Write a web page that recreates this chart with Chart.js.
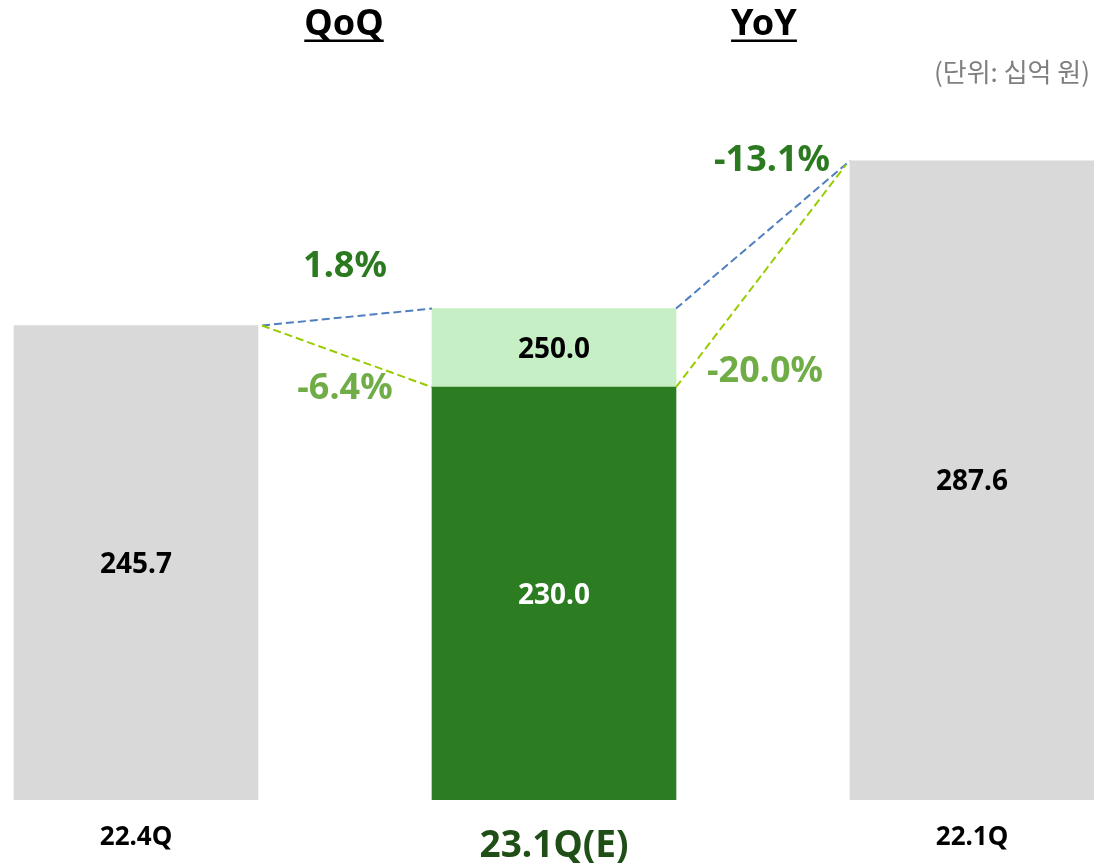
<!DOCTYPE html>
<html><head><meta charset="utf-8">
<script src="https://cdn.jsdelivr.net/npm/chart.js@4/dist/chart.umd.min.js"></script>
<style>html,body{margin:0;padding:0;background:#fff;} #wrap{position:relative;width:1094px;height:866px;}</style>
</head><body><div id="wrap"><canvas id="c"></canvas></div>
<script>
// ---- data ----
const categories = ['22.4Q', '23.1Q(E)', '22.1Q'];
const baseValues = [245.7, 230.0, 287.6];      // 22.4Q actual, 23.1Q(E) low estimate, 22.1Q actual
const upperEstimate = [null, 250.0, null];     // 23.1Q(E) high estimate
const qoqLabels = ['1.8%', '-6.4%'];           // vs high / low estimate
const yoyLabels = ['-13.1%', '-20.0%'];
const headerLabels = ['QoQ', 'YoY'];
const unitLabel = '(단위: 십억 원)';

// ---- styles ----
const FONT = "'Noto Sans', 'Noto Sans CJK KR', sans-serif";
const GRAY = '#d9d9d9', DARK = '#2c7c22', LIGHT = '#c6efc6';
const PCT_DARK = '#2b7a20', PCT_LIGHT = '#70ad47';
const BLUE = '#4f7fbf', YGREEN = '#99cc00';

const floating = upperEstimate.map((v, i) => v == null ? null : [baseValues[i], v]);

const overlay = {
  id: 'overlay',
  afterDatasetsDraw(chart) {
    const ctx = chart.ctx;
    const bottom = chart.chartArea.bottom;
    const m0 = chart.getDatasetMeta(0).data;
    const m1 = chart.getDatasetMeta(1).data;
    const b0 = m0[0], b1 = m0[1], b2 = m0[2], u1 = m1[1];
    const hw = b => b.width / 2;
    ctx.save();
    // value labels in bars
    ctx.textAlign = 'center';
    ctx.textBaseline = 'middle';
    ctx.font = `bold 28px ${FONT}`;
    const lbl = (b, text, color) => { ctx.fillStyle = color; ctx.fillText(text, b.x, (b.y + Math.min(b.base, bottom)) / 2 + 2); };
    lbl(b0, baseValues[0].toFixed(1), '#000');
    lbl(b1, baseValues[1].toFixed(1), '#fff');
    lbl(b2, baseValues[2].toFixed(1), '#000');
    lbl(u1, upperEstimate[1].toFixed(1), '#000');

    // dashed connectors
    ctx.lineWidth = 2;
    ctx.setLineDash([8, 4]);
    const line = (x1, y1, x2, y2, c) => { ctx.strokeStyle = c; ctx.beginPath(); ctx.moveTo(x1, y1); ctx.lineTo(x2, y2); ctx.stroke(); };
    line(b0.x + hw(b0) + 4, b0.y, u1.x - hw(u1), u1.y, BLUE);
    line(b0.x + hw(b0) + 4, b0.y, b1.x - hw(b1), b1.y, YGREEN);
    line(u1.x + hw(u1), u1.y, b2.x - hw(b2), b2.y, BLUE);
    line(b1.x + hw(b1), b1.y, b2.x - hw(b2) - 4, b2.y + 4, YGREEN);
    ctx.setLineDash([]);

    // percent labels
    ctx.font = `bold 36px ${FONT}`;
    const qx = ((b0.x + hw(b0)) + (b1.x - hw(b1))) / 2;
    const yx = ((b1.x + hw(b1)) + (b2.x - hw(b2))) / 2;
    ctx.fillStyle = PCT_DARK;
    ctx.fillText(qoqLabels[0], qx, (b0.y + u1.y) / 2 - 50);
    ctx.fillStyle = PCT_LIGHT;
    ctx.fillText(qoqLabels[1], qx, (b0.y + b1.y) / 2 + 32);
    ctx.fillStyle = PCT_DARK;
    ctx.fillText(yoyLabels[0], yx + 9, b2.y);
    ctx.fillStyle = PCT_LIGHT;
    ctx.fillText(yoyLabels[1], yx + 2, b1.y - 15);

    // headers
    ctx.font = `bold 36px ${FONT}`;
    ctx.fillStyle = '#000';
    ctx.textBaseline = 'alphabetic';
    [[headerLabels[0], qx - 1], [headerLabels[1], yx + 1]].forEach(([t, x]) => {
      ctx.fillText(t, x, 35);
      const w = ctx.measureText(t).width;
      ctx.fillRect(x - w / 2, 39.5, w, 2.5);
    });

    // unit
    ctx.font = `26px 'Noto Sans CJK KR', sans-serif`;
    ctx.fillStyle = '#7f7f7f';
    ctx.textAlign = 'right';
    ctx.textBaseline = 'middle';
    ctx.fillText(unitLabel, 1090, 72);
    ctx.restore();
  }
};

const noVClip = { left: false, right: false, top: 0, bottom: 0 };

new Chart(document.getElementById('c'), {
  type: 'bar',
  data: {
    labels: categories,
    datasets: [
      { data: baseValues, backgroundColor: [GRAY, DARK, GRAY], grouped: false, barThickness: 244, clip: noVClip, borderWidth: 0 },
      { data: floating, backgroundColor: LIGHT, grouped: false, barThickness: 244, clip: noVClip, borderWidth: 0 }
    ]
  },
  options: {
    responsive: true,
    maintainAspectRatio: false,
    animation: false,
    layout: { padding: { left: 136, right: 122, top: 112, bottom: 0 } },
    plugins: { legend: { display: false }, tooltip: { enabled: false } },
    scales: {
      y: { display: false, min: 125, max: 300 },
      x: {
        offset: false,
        grid: { display: false, drawTicks: false },
        border: { display: false },
        afterFit: (s) => { s.height = 66; },
        ticks: {
          padding: 22,
          autoSkip: false,
          maxRotation: 0,
          color: (c) => c.index === 1 ? '#1f4e17' : '#000',
          font: (c) => c.index === 1
            ? { family: FONT, size: 37, weight: 'bold', lineHeight: 1.3 }
            : { family: FONT, size: 26, weight: 'bold', lineHeight: 1.2 }
        }
      }
    }
  },
  plugins: [overlay]
});
</script>
</body></html>
